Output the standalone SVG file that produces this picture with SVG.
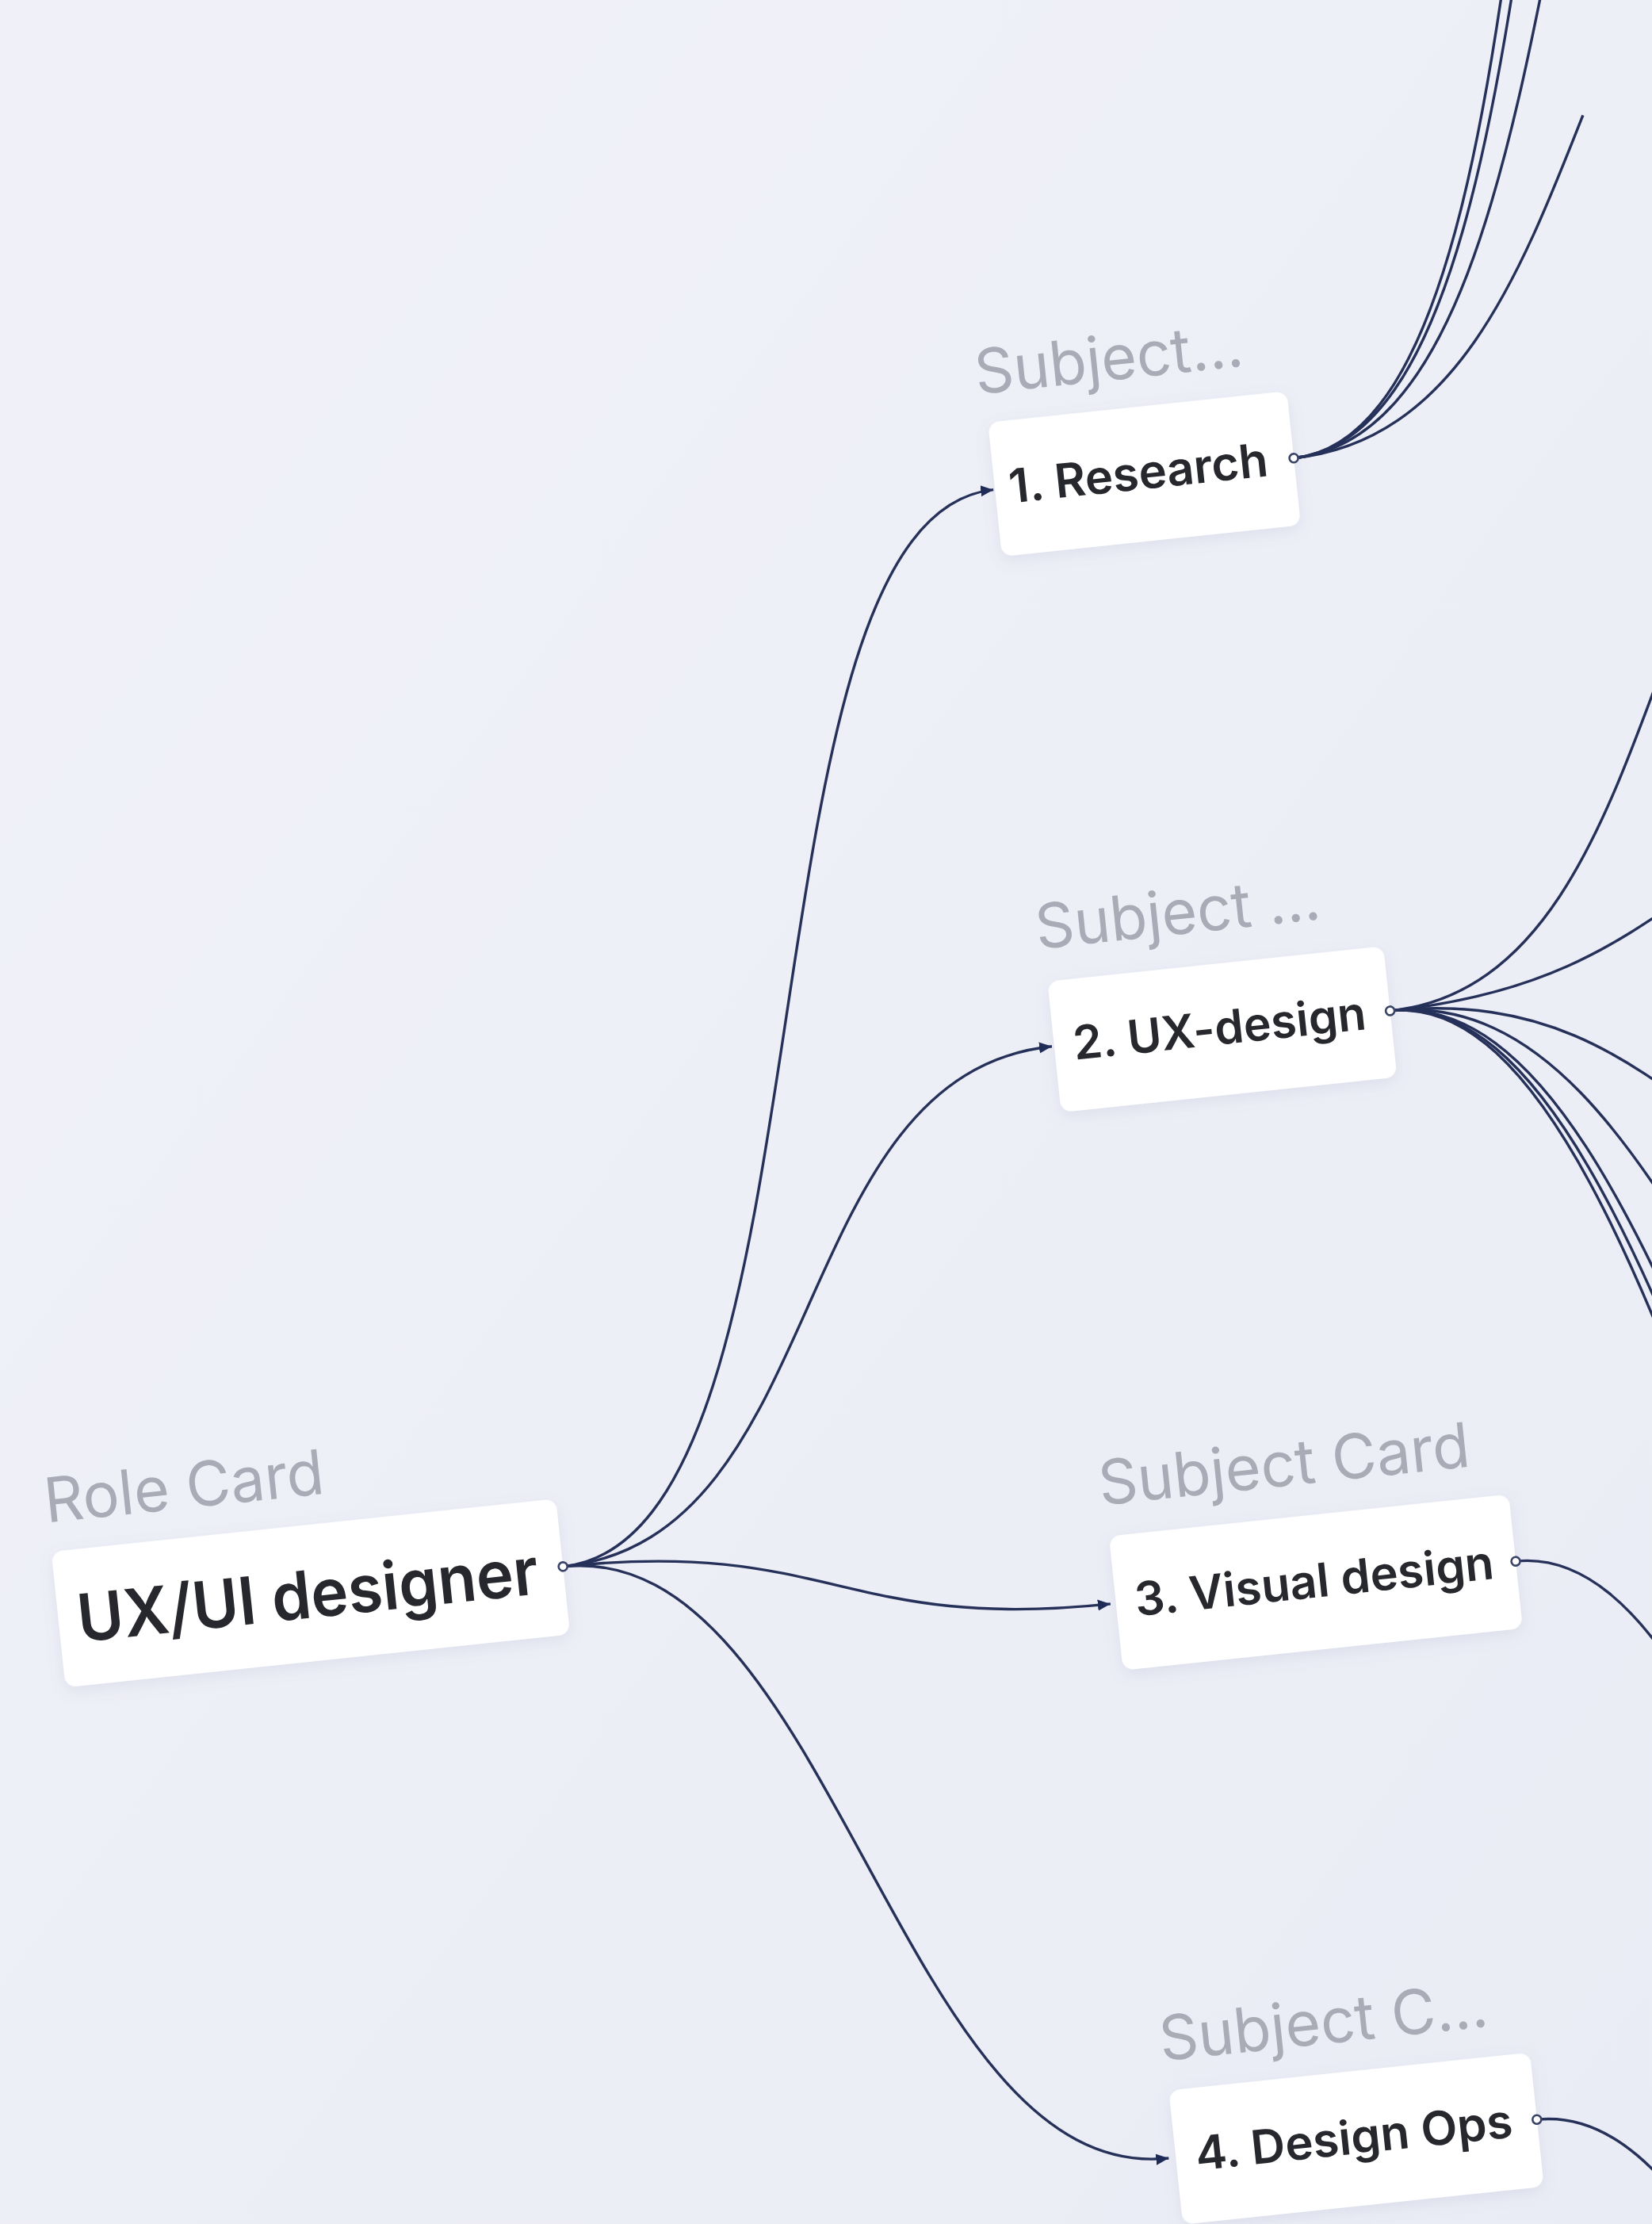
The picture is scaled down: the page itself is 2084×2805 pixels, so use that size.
<svg xmlns="http://www.w3.org/2000/svg" width="2084" height="2805" viewBox="0 0 2084 2805">
<defs>
<style>
.card{fill:#ffffff;filter:url(#sh)}
.lbl{font-family:Inter,"Noto Sans",sans-serif;font-size:78px;font-weight:400;fill:#a9acb6}
.txt{font-family:Inter,"Noto Sans",sans-serif;font-size:59px;font-weight:600;fill:#27282d}
.big{font-size:83px}
.edge{fill:none;stroke:#26315a;stroke-width:3.4}
.port{fill:#ffffff;stroke:#3a4468;stroke-width:2.6}
</style>
<marker id="arr" markerUnits="userSpaceOnUse" markerWidth="18" markerHeight="16" refX="16" refY="8" orient="auto">
<path d="M0,1 L16,8 L0,15 z" fill="#1f2b57"/>
</marker>
<filter id="sh" x="-20%" y="-30%" width="140%" height="170%">
<feDropShadow dx="0" dy="6" stdDeviation="9" flood-color="#7d84a8" flood-opacity="0.14"/>
</filter>
<linearGradient id="bgg" x1="0" y1="0" x2="1" y2="1">
<stop offset="0" stop-color="#f0f1f8"/>
<stop offset="1" stop-color="#eaecf5"/>
</linearGradient>
</defs>
<rect x="0" y="0" width="2084" height="2805" fill="url(#bgg)"/>
<g transform="rotate(-6 1042 1402)">
<g id="connectors">
<path class="edge" marker-end="url(#arr)" d="M652 1938 C1008 1938 1000 644 1334 644"/>
<path class="edge" marker-end="url(#arr)" d="M652 1938 C995 1938 993 1350 1334 1350"/>
<path class="edge" marker-end="url(#arr)" d="M652 1938 C993 1938 993 2057 1334 2057"/>
<path class="edge" marker-end="url(#arr)" d="M652 1938 C993 1938 993 2760 1334 2760"/>
<path class="edge" d="M1715 644 C2123 644 2123 -1207 2531 -1207"/>
<path class="edge" d="M1715 644 C2123 644 2123 -1044 2531 -1044"/>
<path class="edge" d="M1715 644 C2123 644 2123 -691 2531 -691"/>
<path class="edge" d="M1715 644 C1919 644 2021 448 2123 252"/>
<path class="edge" d="M1763 1350 C2147 1350 2147 572 2531 572"/>
<path class="edge" d="M1763 1350 C2147 1350 2147 1142 2531 1142"/>
<path class="edge" d="M1763 1350 C2147 1350 2147 1704 2531 1704"/>
<path class="edge" d="M1763 1350 C2147 1350 2147 2165 2531 2165"/>
<path class="edge" d="M1763 1350 C2147 1350 2147 2607 2531 2607"/>
<path class="edge" d="M1763 1350 C2147 1350 2147 2767 2531 2767"/>
<path class="edge" d="M1763 1350 C2147 1350 2147 2900 2531 2900"/>
<path class="edge" d="M1848 2057 C2190 2057 2190 3287 2531 3287"/>
<path class="edge" d="M1801 2760 C2166 2760 2166 4114 2531 4114"/>
</g>
<g id="node-role">
<text class="lbl" x="10" y="1815" textLength="354" lengthAdjust="spacingAndGlyphs">Role Card</text>
<rect class="card" x="12" y="1852" width="640" height="172" rx="14"/>
<text class="txt big" x="36" y="1969" textLength="584" lengthAdjust="spacingAndGlyphs">UX/UI designer</text>
<circle class="port" cx="652" cy="1938" r="5.5"/>
</g>
<g id="node-research">
<text class="lbl" x="1326" y="522" textLength="340" lengthAdjust="spacingAndGlyphs">Subject...</text>
<rect class="card" x="1336" y="559" width="379" height="170" rx="14"/>
<text class="txt" x="1354" y="663" textLength="328" lengthAdjust="spacingAndGlyphs">1. Research</text>
<circle class="port" cx="1715" cy="644" r="5.5"/>
</g>
<g id="node-ux">
<text class="lbl" x="1329" y="1226" textLength="361" lengthAdjust="spacingAndGlyphs">Subject ...</text>
<rect class="card" x="1337" y="1268" width="426" height="166" rx="14"/>
<text class="txt" x="1361" y="1370" textLength="371" lengthAdjust="spacingAndGlyphs">2. UX-design</text>
<circle class="port" cx="1763" cy="1350" r="5.5"/>
</g>
<g id="node-visual">
<text class="lbl" x="1335" y="1932" textLength="470" lengthAdjust="spacingAndGlyphs">Subject Card</text>
<rect class="card" x="1341" y="1972" width="507" height="170" rx="14"/>
<text class="txt" x="1365" y="2076" textLength="455" lengthAdjust="spacingAndGlyphs">3. Visual design</text>
<circle class="port" cx="1848" cy="2057" r="5.5"/>
</g>
<g id="node-designops">
<text class="lbl" x="1338" y="2637" textLength="416" lengthAdjust="spacingAndGlyphs">Subject C...</text>
<rect class="card" x="1343" y="2675" width="458" height="170" rx="14"/>
<text class="txt" x="1368" y="2779" textLength="402" lengthAdjust="spacingAndGlyphs">4. Design Ops</text>
<circle class="port" cx="1801" cy="2760" r="5.5"/>
</g>
</g>
</svg>
